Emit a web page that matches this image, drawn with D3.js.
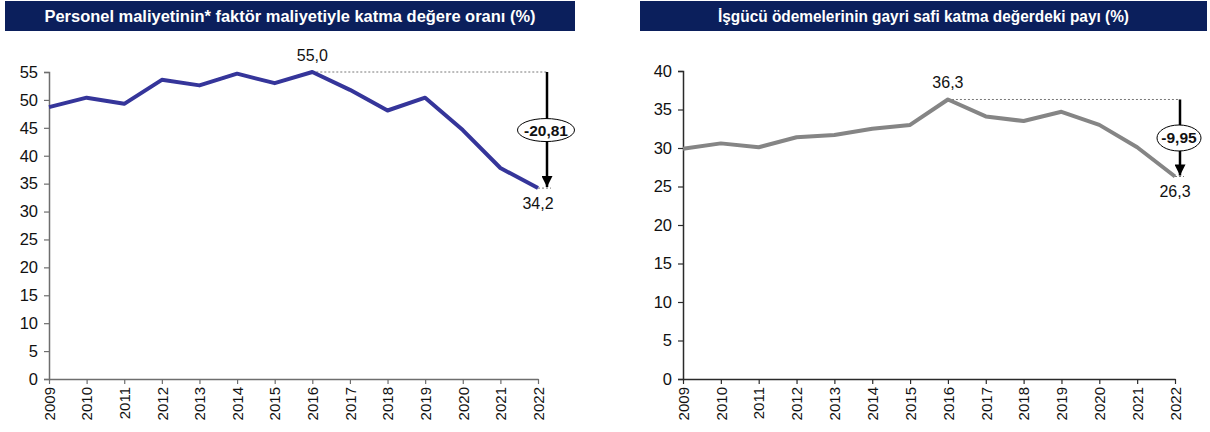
<!DOCTYPE html>
<html>
<head>
<meta charset="utf-8">
<script src="https://cdn.jsdelivr.net/npm/d3@7"></script>
<style>
  body { margin: 0; background: #fff; }
  svg { display: block; font-family: "Liberation Sans", Arial, sans-serif; }
</style>
</head>
<body>
<svg id="chart" width="1210" height="432"></svg>
<script>
var years = ['2009', '2010', '2011', '2012', '2013', '2014', '2015', '2016', '2017', '2018', '2019', '2020', '2021', '2022'];
var personelRatio = [48.7, 50.4, 49.3, 53.6, 52.6, 54.7, 53.0, 55.0, 51.8, 48.1, 50.4, 44.6, 37.8, 34.2];
var laborShare = [29.9, 30.6, 30.1, 31.4, 31.7, 32.5, 33.0, 36.3, 34.1, 33.5, 34.7, 33.0, 30.1, 26.3];
var leftTicks = [0, 5, 10, 15, 20, 25, 30, 35, 40, 45, 50, 55];
var rightTicks = [0, 5, 10, 15, 20, 25, 30, 35, 40];
var titles = ['Personel maliyetinin* faktör maliyetiyle katma değere oranı (%)', 'İşgücü ödemelerinin gayri safi katma değerdeki payı (%)'];
var changeLabels = ['-20,81', '-9,95'];
var peakLabels = ['55,0', '36,3'];
var endLabels = ['34,2', '26,3'];

var svg = d3.select('#chart');

svg.append('defs').append('marker')
  .attr('id', 'arrowhead')
  .attr('viewBox', '0 0 10 10')
  .attr('refX', 10).attr('refY', 5)
  .attr('markerWidth', 5).attr('markerHeight', 4.4)
  .attr('markerUnits', 'strokeWidth')
  .attr('orient', 'auto')
  .append('path').attr('d', 'M0,0 L10,5 L0,10 z').attr('fill', '#000');

var panels = [
  { values: personelRatio, ticks: leftTicks, title: titles[0], titleLen: 491, change: changeLabels[0], peak: peakLabels[0], end: endLabels[0],
    box: [5, 575], x0: 49, x1: 538, yMax: 55, yTop: 72, lineColor: '#35359a', axisColor: '#6e6e6e',
    arrowDx: 9, ellipse: [28.5, 11.5] },
  { values: laborShare, ticks: rightTicks, title: titles[1], titleLen: 411, change: changeLabels[1], peak: peakLabels[1], end: endLabels[1],
    box: [640, 1207], x0: 683, x1: 1175, yMax: 40, yTop: 71, lineColor: '#858585', axisColor: '#2a2a2a',
    arrowDx: 5, ellipse: [22, 13] }
];

panels.forEach(function(p) {
  var g = svg.append('g');

  // title bar
  g.append('rect')
    .attr('x', p.box[0]).attr('y', 1)
    .attr('width', p.box[1] - p.box[0]).attr('height', 30)
    .attr('fill', '#0b1f5c');
  g.append('text')
    .attr('x', (p.box[0] + p.box[1]) / 2).attr('y', 22)
    .attr('text-anchor', 'middle')
    .attr('fill', '#fff').attr('font-weight', 'bold').attr('font-size', 16)
    .attr('textLength', p.titleLen).attr('lengthAdjust', 'spacingAndGlyphs')
    .text(p.title);

  var x = d3.scalePoint().domain(years).range([p.x0, p.x1]);
  var y = d3.scaleLinear().domain([0, p.yMax]).range([379, p.yTop]);

  var yAxis = g.append('g')
    .attr('transform', 'translate(' + p.x0 + ',0)')
    .call(d3.axisLeft(y).tickValues(p.ticks).tickSize(5).tickPadding(6).tickFormat(d3.format('d')));
  var xAxis = g.append('g')
    .attr('transform', 'translate(0,379)')
    .call(d3.axisBottom(x).tickSize(5).tickSizeOuter(0).tickPadding(4));

  [yAxis, xAxis].forEach(function(a) {
    a.select('.domain').attr('stroke', p.axisColor).attr('stroke-width', 1.5);
    a.selectAll('.tick line').attr('stroke', p.axisColor).attr('stroke-width', 1.2);
    a.selectAll('text').attr('fill', '#111').attr('font-family', '"Liberation Sans", Arial, sans-serif');
  });
  yAxis.selectAll('text').attr('font-size', 16.5);
  xAxis.selectAll('text')
    .attr('font-size', 15)
    .attr('transform', 'rotate(-90)')
    .attr('text-anchor', 'end')
    .attr('dy', '0.35em')
    .attr('x', -8).attr('y', 0);

  // dashed guides
  var peakIdx = p.values.indexOf(d3.max(p.values));
  var last = p.values.length - 1;
  var ax = x(years[last]) + p.arrowDx;
  g.append('line')
    .attr('x1', x(years[peakIdx])).attr('x2', ax)
    .attr('y1', y(p.values[peakIdx])).attr('y2', y(p.values[peakIdx]))
    .attr('stroke', '#555').attr('stroke-width', 0.8).attr('stroke-dasharray', '2,2');
  g.append('line')
    .attr('x1', x(years[last])).attr('x2', ax + 4)
    .attr('y1', y(p.values[last])).attr('y2', y(p.values[last]))
    .attr('stroke', '#555').attr('stroke-width', 0.8).attr('stroke-dasharray', '2,2');

  // series
  g.append('path')
    .datum(p.values)
    .attr('fill', 'none')
    .attr('stroke', p.lineColor)
    .attr('stroke-width', 4)
    .attr('stroke-linejoin', 'round')
    .attr('d', d3.line().x(function(d, i) { return x(years[i]); }).y(function(d) { return y(d); }));

  // change arrow
  g.append('line')
    .attr('x1', ax).attr('x2', ax)
    .attr('y1', y(p.values[peakIdx])).attr('y2', y(p.values[last]) - 1)
    .attr('stroke', '#000').attr('stroke-width', 2.5)
    .attr('marker-end', 'url(#arrowhead)');
  var my = (y(p.values[peakIdx]) + y(p.values[last])) / 2;
  g.append('ellipse')
    .attr('cx', ax - 1).attr('cy', my)
    .attr('rx', p.ellipse[0]).attr('ry', p.ellipse[1])
    .attr('fill', '#fff').attr('stroke', '#000').attr('stroke-width', 1);
  g.append('text')
    .attr('x', ax - 1).attr('y', my + 5.5)
    .attr('text-anchor', 'middle').attr('font-weight', 'bold').attr('font-size', 15.5)
    .attr('fill', '#111')
    .text(p.change);

  // value labels
  g.append('text')
    .attr('x', x(years[peakIdx])).attr('y', y(p.values[peakIdx]) - 11)
    .attr('text-anchor', 'middle').attr('font-size', 16).attr('fill', '#111')
    .text(p.peak);
  g.append('text')
    .attr('x', x(years[last])).attr('y', y(p.values[last]) + 21)
    .attr('text-anchor', 'middle').attr('font-size', 16).attr('fill', '#111')
    .text(p.end);
});
</script>
</body>
</html>
